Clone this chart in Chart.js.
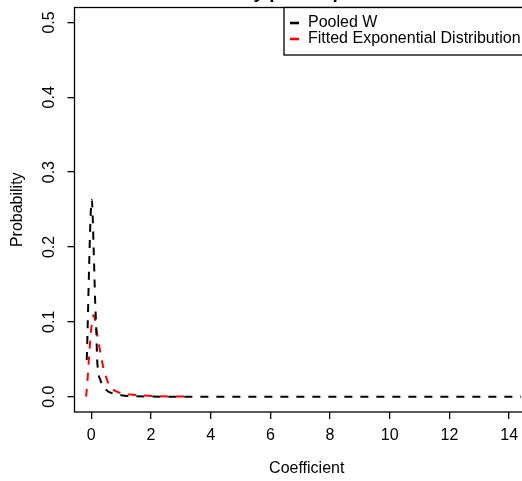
<!DOCTYPE html>
<html>
<head>
<meta charset="utf-8">
<script src="https://cdn.jsdelivr.net/npm/chart.js@4.4.1/dist/chart.umd.min.js"></script>
<style>
  html, body { margin: 0; padding: 0; background: #fff; overflow: hidden; }
  #wrap { width: 545px; height: 481px; }
</style>
</head>
<body>
<div id="wrap"><canvas id="c" width="545" height="481"></canvas></div>
<script>
// ---- data ----
const chartTitle = "Density plot of pooled W";
const xAxisLabel = "Coefficient";
const yAxisLabel = "Probability";
const seriesNames = ["Pooled W", "Fitted Exponential Distribution"];

const pooledX = [-0.15, 0.02, 0.08, 0.13, 0.17, 0.20, 0.31, 0.50, 0.75, 1.0, 1.5, 2.5, 6.0, 10.0, 14.4];
const pooledY = [0.049, 0.263, 0.200, 0.130, 0.089, 0.049, 0.022, 0.009, 0.004, 0.002, 0.0005, 0.0, 0.0, 0.0, 0.0];

const expX = [-0.17, 0.08, 0.17, 0.28, 0.40, 0.60, 0.90, 1.30, 2.00, 3.20];
const expY = [0.0, 0.109, 0.090, 0.065, 0.040, 0.016, 0.006, 0.003, 0.001, 0.0];

const xTicks = [0, 2, 4, 6, 8, 10, 12, 14];
const yTicks = [0.0, 0.1, 0.2, 0.3, 0.4, 0.5];

const FONT = "'Liberation Sans', Arial, Helvetica, sans-serif";

function pts(xs, ys) { return xs.map((x, i) => ({ x: x, y: ys[i] })); }

const boxPlugin = {
  id: 'rbox',
  afterDraw(chart) {
    const ctx = chart.ctx, a = chart.chartArea;
    ctx.save();
    ctx.strokeStyle = '#000';
    ctx.lineWidth = 1.3;
    ctx.setLineDash([]);
    ctx.strokeRect(a.left, a.top, a.right - a.left, a.bottom - a.top);

    // legend (top right, inside plot)
    const lx = 284, ly = a.top, lh = 55 - a.top;
    ctx.fillStyle = '#fff';
    ctx.fillRect(lx, ly, a.right - lx, lh);
    ctx.strokeRect(lx, ly, a.right - lx, lh);
    ctx.font = '16px ' + FONT;
    ctx.textBaseline = 'middle';
    ctx.textAlign = 'left';
    chart.data.datasets.forEach((ds, i) => {
      const y = 23 + i * 16;
      ctx.strokeStyle = ds.borderColor;
      ctx.lineWidth = 2.6;
      ctx.beginPath();
      ctx.moveTo(290, y);
      ctx.lineTo(299, y);
      ctx.stroke();
      ctx.fillStyle = '#000';
      ctx.fillText(ds.label, 308, y);
    });

    // title, clipped off at top of the page
    ctx.font = 'bold 19px ' + FONT;
    ctx.textAlign = 'center';
    ctx.textBaseline = 'alphabetic';
    ctx.fillStyle = '#000';
    ctx.fillText(chartTitle, (a.left + a.right) / 2, -2);
    ctx.restore();
  }
};

new Chart(document.getElementById('c'), {
  type: 'line',
  data: {
    datasets: [
      {
        label: seriesNames[0],
        data: pts(pooledX, pooledY),
        borderColor: '#000000',
        borderWidth: 2,
        borderDash: [8, 8],
        pointRadius: 0,
        fill: false,
        cubicInterpolationMode: 'monotone'
      },
      {
        label: seriesNames[1],
        data: pts(expX, expY),
        borderColor: '#ff0000',
        borderWidth: 2,
        borderDash: [8, 8],
        pointRadius: 0,
        fill: false,
        cubicInterpolationMode: 'monotone'
      }
    ]
  },
  options: {
    responsive: false,
    animation: false,
    events: [],
    layout: { padding: { left: 0, top: 7.5, right: 6, bottom: 0 } },
    plugins: { legend: { display: false }, title: { display: false }, tooltip: { enabled: false } },
    scales: {
      x: {
        type: 'linear',
        min: -0.56,
        max: 15.0,
        afterBuildTicks(s) { s.ticks = xTicks.map(v => ({ value: v })); },
        afterFit(s) { s.height = 69; s.paddingLeft = 0; s.paddingRight = 0; },
        border: { display: false },
        grid: { display: true, drawOnChartArea: false, drawTicks: true, tickLength: 7, color: '#000', lineWidth: 1.3 },
        ticks: { color: '#000', font: { family: FONT, size: 16 }, padding: 7, maxRotation: 0, minRotation: 0,
                 callback: v => String(v) },
        title: { display: true, text: xAxisLabel, color: '#000', font: { family: FONT, size: 16 }, padding: { top: 0, bottom: 2.5 } }
      },
      y: {
        type: 'linear',
        min: -0.0205,
        max: 0.520,
        afterBuildTicks(s) { s.ticks = yTicks.map(v => ({ value: v })); },
        afterFit(s) { s.width = 74.5; s.paddingTop = 0; s.paddingBottom = 0; },
        border: { display: false },
        grid: { display: true, drawOnChartArea: false, drawTicks: true, tickLength: 7, color: '#000', lineWidth: 1.3 },
        ticks: { color: '#000', font: { family: FONT, size: 16 }, padding: 6.5, minRotation: 90, maxRotation: 90,
                 crossAlign: 'center', callback: v => Number(v).toFixed(1) },
        title: { display: true, text: yAxisLabel, color: '#000', font: { family: FONT, size: 16 }, padding: { top: 8.4, bottom: 0 } }
      }
    }
  },
  plugins: [boxPlugin]
});
</script>
</body>
</html>
